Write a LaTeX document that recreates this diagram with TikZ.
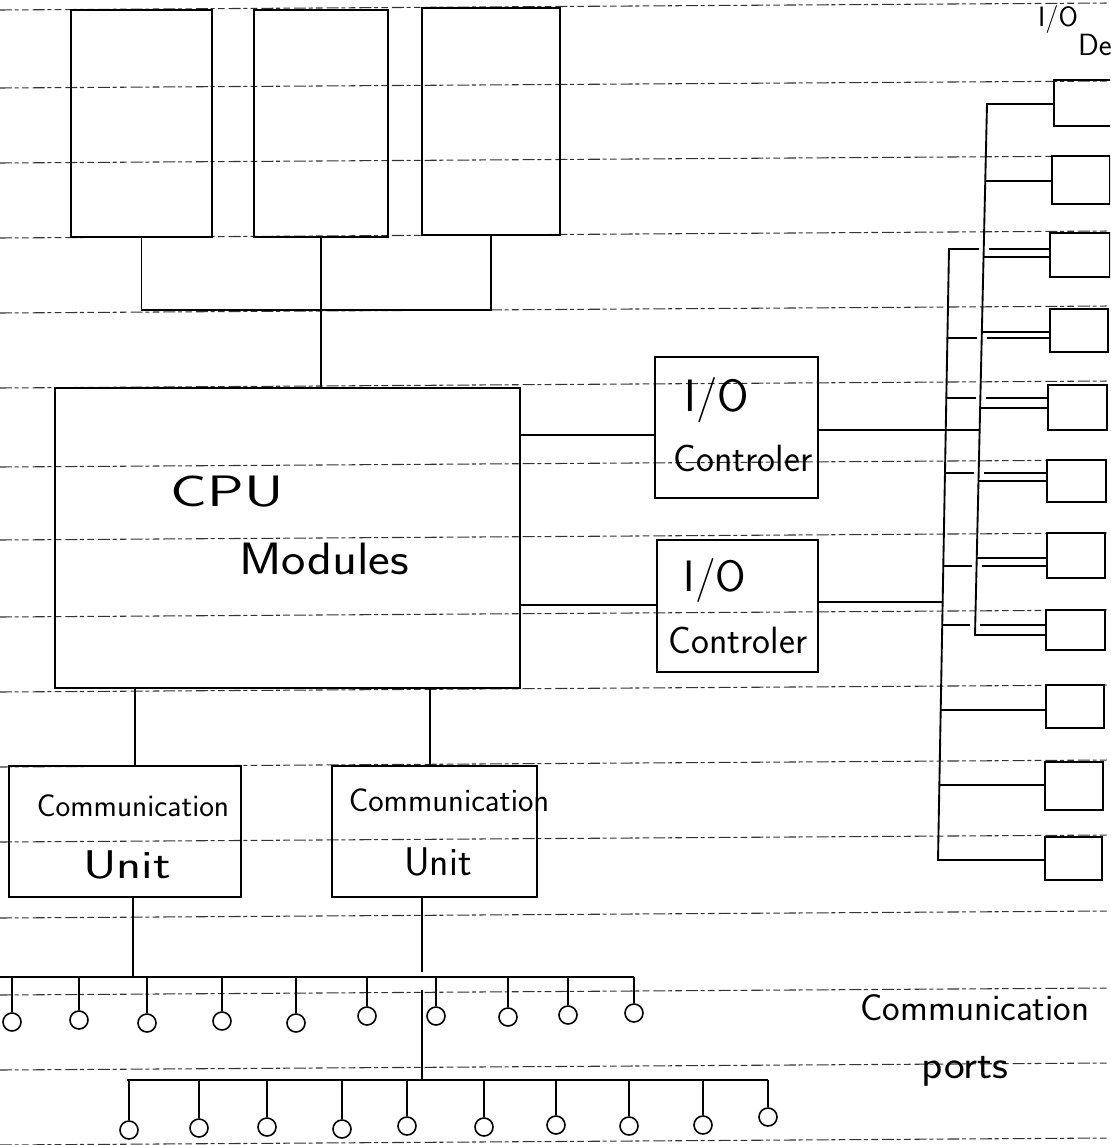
\documentclass[tikz,border=0pt]{standalone}
\usepackage{fontspec}
\usepackage{graphicx}
\usetikzlibrary{fit}
\newcommand\hwfont[1]{\sffamily\fontsize{#1}{#1}\selectfont}
\tikzset{
  paper/.style={line width=0.8pt, black!80, dash pattern=on 9pt off 2pt on 3pt off 2.5pt on 5pt off 3pt},
  box/.style={draw, rectangle, line width=1.5pt, inner sep=0pt},
  wire/.style={line width=1.4pt},
  port/.style={draw, circle, line width=1.2pt, minimum size=13.5pt, inner sep=0pt},
  hand/.style={inner sep=0pt, outer sep=0pt},
}
\begin{document}
\begin{tikzpicture}[x=0.75pt, y=-0.75pt]
\useasboundingbox (0,0) rectangle (1110,1145);
\fill[white] (0,0) rectangle (1110,1145);
\clip (0,0) rectangle (1110,1145);

% ruled paper lines
\foreach \yl in {10,88,163,238,313,388,467,540,617,692,767,842,918,995,1070,1145}
  \draw[paper] (0,\yl) -- (1110,{\yl-7});

% memory modules (top)
\node[box, fit={(71,10) (212,237)}] (m1) {};
\node[box, fit={(254,10) (388,237)}] (m2) {};
\node[box, fit={(422,8) (560,235)}] (m3) {};
\coordinate (bk) at (321,310);
\draw[wire] (m1.south) |- (bk) -| (m3.south);

% CPU
\node[box, fit={(55,388) (520,688)}] (cpu) {};
\draw[wire] (m2.south) -- (m2.south |- cpu.north);
\node[hand, font=\hwfont{33}] (tcpu) at (227,492) {\scalebox{1.39}[1]{CPU}};
\node[hand, font=\hwfont{34}] (tmod) at (324,559) {\scalebox{1.14}[1]{Modules}};

% I/O controllers
\node[box, fit={(655,357) (818,498)}] (c1) {};
\node[box, fit={(657,540) (818,672)}] (c2) {};
\node[hand, font=\hwfont{34}] (tc1a) at (717,400) {I/O};
\node[hand, font=\hwfont{28.5}] (tc1b) at (743,458) {Controler};
\node[hand, font=\hwfont{33}] (tc2a) at (715,580) {I/O};
\node[hand, font=\hwfont{28.5}] (tc2b) at (738,640) {Controler};
\draw[wire] (cpu.east |- 0,435) -- (c1.west |- 0,435);
\draw[wire] (cpu.east |- 0,605) -- (c2.west |- 0,605);

% I/O devices
\node[hand, font=\hwfont{21}] (tiod) at (1058,20) {I/O};
\node[hand, font=\hwfont{23}, anchor=west] (tdev) at (1078,45) {De};
\node[box, fit={(1054,80) (1118,126)}] (d1) {};
\node[box, fit={(1052,156) (1110,204)}] (d2) {};
\node[box, fit={(1050,233) (1110,277)}] (d3) {};
\node[box, fit={(1050,309) (1108,352)}] (d4) {};
\node[box, fit={(1048,385) (1107,430)}] (d5) {};
\node[box, fit={(1047,460) (1106,502)}] (d6) {};
\node[box, fit={(1047,533) (1105,578)}] (d7) {};
\node[box, fit={(1046,610) (1105,650)}] (d8) {};
\node[box, fit={(1046,685) (1104,728)}] (d9) {};
\node[box, fit={(1045,762) (1103,810)}] (d10) {};
\node[box, fit={(1045,837) (1102,880)}] (d11) {};

% bus 1 (controller 1)
\coordinate (b1t) at (987,104);
\coordinate (b1b) at (975,635);
\draw[wire] (d1.west |- b1t) -- (b1t) -- (b1b) -- (d8.west |- b1b);
\draw[wire] (985.3,181) -- (d2.west |- 0,181);
\draw[wire] (983.5,257) -- (d3.west |- 0,257);
\draw[wire] (981.8,332) -- (d4.west |- 0,332);
\draw[wire] (980.1,408) -- (d5.west |- 0,408);
\draw[wire] (978.5,481) -- (d6.west |- 0,481);
\draw[wire] (976.7,558) -- (d7.west |- 0,558);
\draw[wire] (c1.east |- 0,430) -- (979.6,430);

% bus 2 (controller 2)
\coordinate (b2t) at (949,249);
\coordinate (b2b) at (938,860);
\draw[wire] (979,249) -- (b2t) -- (b2b) -- (d11.west |- b2b);
\draw[wire] (989,249) -- (d3.west |- 0,249);
\draw[wire] (947.4,338) -- (976.5,338);
\draw[wire] (987,338) -- (d4.west |- 0,338);
\draw[wire] (946.3,398) -- (975.5,398);
\draw[wire] (985.5,398) -- (d5.west |- 0,398);
\draw[wire] (945,473) -- (973.5,473);
\draw[wire] (984,473) -- (d6.west |- 0,473);
\draw[wire] (943.3,566) -- (971.5,566);
\draw[wire] (981.5,566) -- (d7.west |- 0,566);
\draw[wire] (942.2,625) -- (970,625);
\draw[wire] (980,625) -- (d8.west |- 0,625);
\draw[wire] (940.7,710) -- (d9.west |- 0,710);
\draw[wire] (939.4,785) -- (d10.west |- 0,785);
\draw[wire] (c2.east |- 0,602) -- (942.6,602);

% communication units
\node[box, fit={(9,766) (241,897)}] (cu1) {};
\node[box, fit={(332,766) (537,897)}] (cu2) {};
\node[hand, font=\hwfont{23.5}] (tcu1a) at (133,806) {Communication};
\node[hand, font=\hwfont{30}] (tcu1b) at (127,865) {\scalebox{1.3}[1]{Unit}};
\node[hand, font=\hwfont{24.5}] (tcu2a) at (449,800) {Communication};
\node[hand, font=\hwfont{30}] (tcu2b) at (438,862) {Unit};
\draw[wire] (cpu.south -| 135,0) -- (cu1.north -| 135,0);
\draw[wire] (cpu.south -| 430,0) -- (cu2.north -| 430,0);

% communication ports, row 1
\coordinate (bus1w) at (0,977);
\coordinate (bus2w) at (127,1080);
\foreach \n/\px/\py in {1/12/1022,2/79/1020,3/147/1023,4/222/1021,5/296/1023,6/367/1016,7/436/1016,8/508/1017,9/568/1015,10/634/1013}
  \node[port] (p\n) at (\px,\py) {};
\draw[wire] (bus1w) -- (p10.north |- bus1w);
\foreach \n in {1,...,10}
  \draw[wire] (p\n.north |- bus1w) -- (p\n.north);
\draw[wire] (cu1.south -| 133,0) -- (bus1w -| 133,0);

% communication ports, row 2
\foreach \n/\px/\py in {1/129/1130,2/199/1128,3/267/1127,4/342/1129,5/407/1126,6/484/1127,7/556/1125,8/629/1126,9/703/1125,10/768/1117}
  \node[port] (q\n) at (\px,\py) {};
\draw[wire] (bus2w) -- (q10.north |- bus2w);
\foreach \n in {1,...,10}
  \draw[wire] (q\n.north |- bus2w) -- (q\n.north);
\draw[wire] (cu2.south -| 422,0) -- (422,972);
\draw[wire] (422,990) -- (bus2w -| 422,0);

\node[hand, font=\hwfont{28}] (tcp1) at (975,1008) {Communication};
\node[hand, font=\hwfont{30}] (tcp2) at (965,1071) {\scalebox{1.1}[1]{ports}};
\end{tikzpicture}
\end{document}
